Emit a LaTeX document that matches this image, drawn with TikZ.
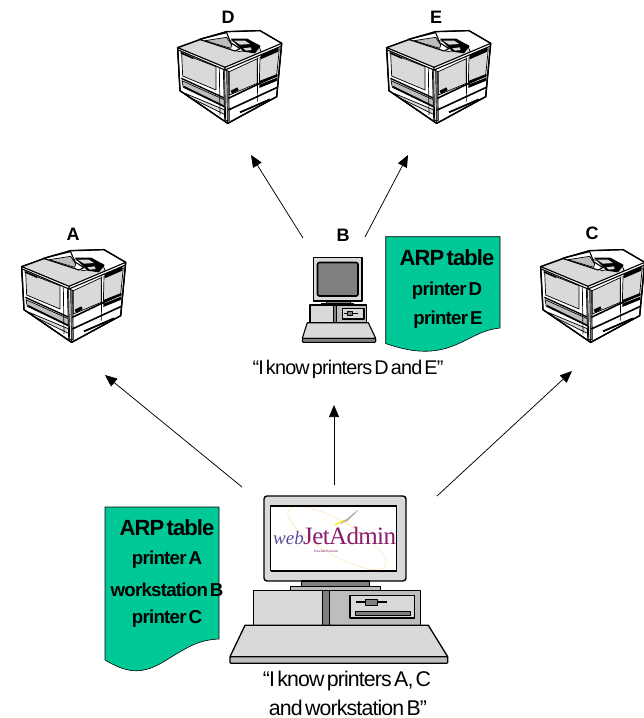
\documentclass[tikz,border=0pt]{standalone}
\usepackage{fontspec}
\setmainfont{Liberation Sans}
\newfontfamily\tightfont[LetterSpace=-4,WordSpace=0.45]{Liberation Sans}
\newfontfamily\logofont{Liberation Serif}
\usetikzlibrary{arrows.meta}
\definecolor{docgreen}{HTML}{00C896}
\definecolor{panel}{HTML}{D9D9D9}
\definecolor{midgray}{HTML}{BDBDBD}
\definecolor{darkgray}{HTML}{7F7F7F}
\definecolor{logopurple}{HTML}{8A1C6E}
\definecolor{logoblue}{HTML}{5B4A9C}
\tikzset{
  x=1pt,y=-1pt,
  ink/.style={draw=black,line width=1.1pt,line join=round},
  thin ink/.style={draw=black,line width=.7pt,line join=round},
  flow/.style={draw=black,line width=.75pt,-{Triangle[length=12pt,width=10pt]}},
  name label/.style={font=\bfseries\fontsize{18}{20}\selectfont,inner sep=0pt},
  doc title/.style={font=\tightfont\bfseries\fontsize{22}{24}\selectfont,inner sep=0pt},
  doc line/.style={font=\tightfont\bfseries\fontsize{18.7}{20}\selectfont,inner sep=0pt},
  caption/.style={font=\tightfont\fontsize{19.8}{22}\selectfont,inner sep=0pt},
  big caption/.style={font=\tightfont\fontsize{21.3}{23}\selectfont,inner sep=0pt},
  doc/.style={draw=black,line width=.6pt,fill=docgreen},
  printer/.pic={
    \begin{scope}[scale=1/3]
      % body
      \path[fill=white,ink] (53,143) -- (130,115) -- (200,95) -- (300,92) -- (365,130) -- (350,290) -- (203,370) -- (60,272) -- cycle;
      % top surface
      \path[fill=panel,thin ink] (53,143) -- (122,118) -- (238,155) -- (300,140) -- (305,158) -- (195,202) -- cycle;
      \path[fill=white,thin ink] (195,95) -- (300,92) -- (365,130) -- (305,158) -- (295,135) -- (210,122) -- cycle;
      % output tray
      \path[fill=white,ink] (118,118) -- (200,98) -- (212,128) -- (240,146) -- (225,153) -- cycle;
      \path[fill=midgray,thin ink] (135,122) -- (200,112) -- (215,135) -- (212,145) -- cycle;
      \path[fill=black] (212,116) -- (262,116) -- (302,138) -- (285,160) -- (250,155) -- (238,142) -- cycle;
      \path[fill=panel] (222,122) -- (255,122) -- (270,132) -- (240,134) -- cycle;
      \path[fill=panel] (250,145) -- (272,142) -- (275,150) -- (258,152) -- cycle;
      % left face
      \path[fill=white,ink] (53,143) -- (195,202) -- (203,370) -- (60,272) -- cycle;
      \path[fill=panel,thin ink] (65,160) -- (168,200) -- (168,270) -- (68,228) -- cycle;
      \path[thin ink,line width=1.6pt] (62,158) -- (100,175);
      \path[ink] (55,150) -- (195,210);
      \path[ink,line width=1.4pt] (64,235) -- (195,295);
      \path[fill=midgray,thin ink] (66,242) -- (195,300) -- (195,322) -- (70,262) -- cycle;
      \path[ink,line width=1.4pt] (72,260) -- (195,320);
      \path[fill=panel,thin ink] (75,280) -- (195,330) -- (197,345) -- (95,295) -- cycle;
      \path[thin ink] (178,205) -- (180,345);
      % right face
      \path[fill=white,ink] (195,202) -- (365,130) -- (350,290) -- (203,370) -- cycle;
      \path[fill=panel,thin ink] (208,215) -- (292,176) -- (292,250) -- (208,285) -- cycle;
      \path[fill=panel,thin ink] (300,172) -- (358,146) -- (350,225) -- (298,252) -- cycle;
      \path[ink] (195,210) -- (365,138);
      % vertical corner band
      \path[fill=darkgray,thin ink] (190,208) -- (206,214) -- (208,362) -- (194,362) -- cycle;
      \path[fill=white,thin ink] (194,210) -- (200,212) -- (202,362) -- (197,362) -- cycle;
      % vents
      \path[fill=black] (302,165) -- (355,143) -- (355,155) -- (302,178) -- cycle;
      \path[fill=black] (298,243) -- (352,222) -- (352,242) -- (298,264) -- cycle;
      \draw[white,line width=.6pt] (300,252) -- (350,232);
      % trays
      \path[ink,line width=1.6pt] (205,295) -- (352,225);
      \path[ink,line width=1.6pt] (205,330) -- (352,262);
      \path[thin ink] (293,172) -- (292,305);
      \path[ink,line width=1.8pt] (240,337) -- (330,298);
      \path[fill=black] (212,272) -- (232,262) -- (236,270) -- (216,282) -- cycle;
      % outline
      \path[ink,line width=1.4pt] (53,143) -- (130,115) -- (200,95) -- (300,92) -- (365,130) -- (350,290) -- (203,370) -- (60,272) -- cycle;
    \end{scope}
  },
}
\begin{document}
\begin{tikzpicture}
\useasboundingbox (0,0) rectangle (644,718);
\fill[white] (0,0) rectangle (644,718);

% printers
\pic at (160,0) {printer};
\pic at (369,0) {printer};
\pic at (4,219) {printer};
\pic at (523,219) {printer};

\node[name label] (labD) at (228,17) {D};
\node[name label] (labE) at (436,17) {E};
\node[name label] (labA) at (73,234) {A};
\node[name label] (labB) at (343,235) {B};
\node[name label] (labC) at (592,233) {C};

% small workstation
\path[fill=panel,ink] (313.3,257.7) rectangle (362,301);
\path[fill=darkgray,draw=black,line width=1.6pt,rounded corners=2pt] (317.5,262.5) rectangle (358,296);
\path[fill=darkgray,thin ink] (326,301) rectangle (350,303.7);
\path[fill=midgray,thin ink] (321.7,303.7) rectangle (353.3,305);
\path[fill=midgray,ink] (310,305) rectangle (366.7,322.7);
\path[fill=panel,thin ink] (310,305) rectangle (333.3,322.7);
\path[fill=darkgray,thin ink] (333.3,305) rectangle (336,322.7);
\path[fill=panel,ink] (342.3,308.3) rectangle (364,319);
\draw[line width=1pt] (344,313) -- (358,313);
\path[fill=darkgray,thin ink] (347,311) rectangle (352,315);
\path[fill=panel,ink] (307.3,322.7) -- (368.3,322.7) -- (375.7,338.3) -- (302.3,338.3) -- cycle;
\path[fill=darkgray,ink,rounded corners=1pt] (302.3,338.3) rectangle (375.7,342.3);

% large workstation
\path[fill=panel,ink,line width=1.4pt,rounded corners=3pt] (264,496) rectangle (406,581);
\path[fill=white,draw=black,line width=1.2pt] (270.7,506) rectangle (396.7,570.7);
\draw[line width=1.8pt] (270.7,506) -- (396.7,506) (270.7,570.7) -- (396.7,570.7);
\begin{scope}
  \clip (271.5,507) rectangle (396,570);
  \draw[yellow!30!orange!22,line width=.7pt,rotate around={-30:(337,538)}] (337,538) ellipse [x radius=56pt,y radius=17pt];
  \draw[yellow!85!orange,line width=1.3pt] (335,525) -- (345,520);
  \path[fill=gray!50,draw=gray!70] (341,524) -- (358,510) -- (347,521) -- (343,522) -- cycle;
\end{scope}
\node[inner sep=0pt,anchor=base east,text=logoblue,font=\logofont\itshape\fontsize{19}{20}\selectfont] (logoWeb) at (304,544) {web};
\node[inner sep=0pt,anchor=base west,text=logopurple,font=\logofont\fontsize{25}{26}\selectfont] (logoJet) at (303,544) {\addfontfeatures{LetterSpace=-2.5}JetAdmin};
\node[inner sep=0pt,text=logopurple!80!black,font=\logofont\fontsize{3.5}{4}\selectfont] (logoHp) at (326,551) {Hewlett-Packard};
\path[fill=darkgray,ink] (301.7,581) rectangle (369.3,586.7);
\path[fill=midgray,thin ink] (290.7,586.7) rectangle (380,590.7);
\path[fill=midgray,ink] (253.3,590.7) rectangle (420.7,625.3);
\path[fill=panel,ink] (253.3,590.7) rectangle (322.7,625.3);
\path[fill=darkgray,ink] (322.7,590.7) rectangle (329.3,625.3);
\path[fill=panel,ink] (350,595.3) rectangle (414.3,618);
\path[fill=darkgray,thin ink] (355,611) rectangle (410,615);
\draw[line width=1.6pt] (356,602) -- (386.7,602);
\path[fill=darkgray,thin ink] (365,599.3) rectangle (377.3,605);
\path[fill=panel,ink,line width=1.3pt] (245,625.3) -- (428.3,625.3) -- (447.7,656.7) -- (230,656.7) -- cycle;
\path[fill=midgray,ink,line width=1.3pt,rounded corners=1pt] (230,656.7) rectangle (447.7,663.3);

% ARP documents
\path[doc] (385.7,236.7) -- (500,236.7) -- (500,328) .. controls (480,330) and (470,340) .. (450,347) .. controls (430,354) and (410,352) .. (385.7,343.5) -- cycle;
\node[doc title] (arpB) at (447,258) {ARP table};
\node[doc line] (arpBd) at (447,291) {printer D};
\node[doc line] (arpBe) at (448,320) {printer E};

\path[doc] (105,507) -- (219,507) -- (219,639) .. controls (198,640) and (188,647) .. (168,659) .. controls (145,674) and (130,675) .. (105,660) -- cycle;
\node[doc title] (arpW) at (167,528) {ARP table};
\node[doc line] (arpWa) at (167,560) {printer A};
\node[doc line] (arpWb) at (167,590) {workstation B};
\node[doc line] (arpWc) at (167,619) {printer C};

% captions
\node[caption] (capB) at (348,369) {“I know printers D and E”};
\node[big caption] (capW1) at (347,681) {“I know printers A, C};
\node[big caption] (capW2) at (348,708) {and workstation B”};

% connectors
\coordinate (bD) at (303,238); \coordinate (tD) at (251,155);
\coordinate (bE) at (365,237); \coordinate (tE) at (408,155);
\coordinate (wA) at (242,487); \coordinate (tA) at (105,375);
\coordinate (wB) at (334,485); \coordinate (tB) at (334,405);
\coordinate (wC) at (437,496); \coordinate (tC) at (572,371);
\draw[flow] (bD) -- (tD);
\draw[flow] (bE) -- (tE);
\draw[flow] (wA) -- (tA);
\draw[flow] (wB) -- (tB);
\draw[flow] (wC) -- (tC);
\end{tikzpicture}
\end{document}
